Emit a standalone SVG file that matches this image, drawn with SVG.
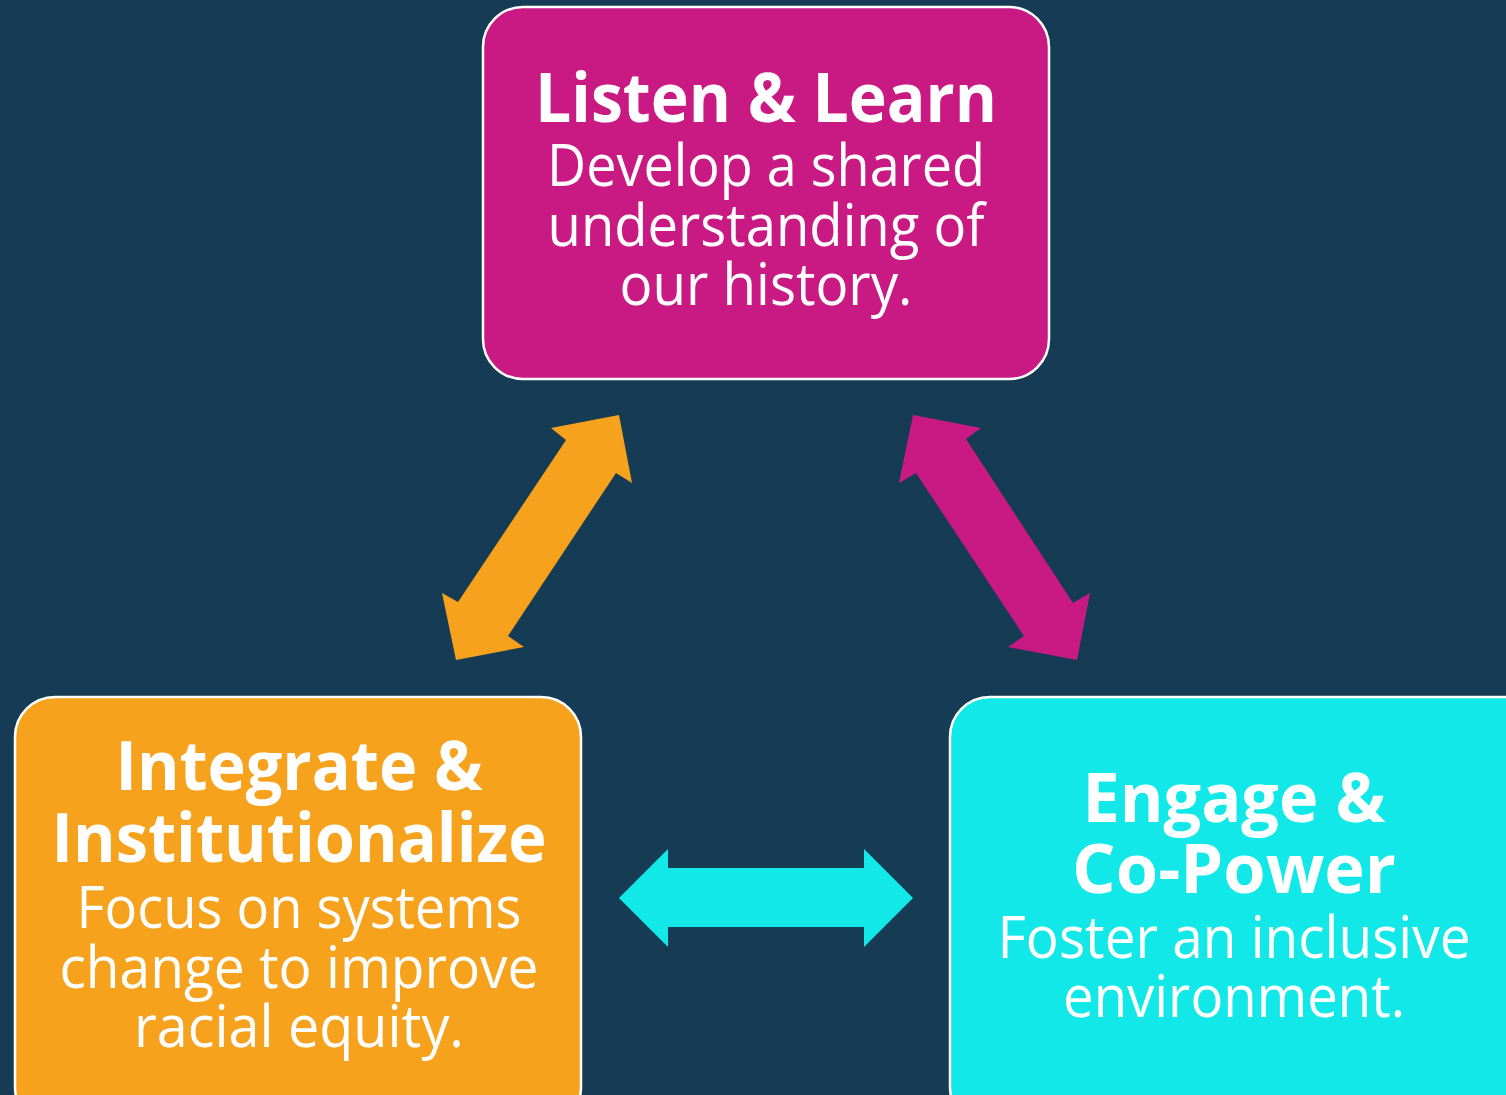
<svg xmlns="http://www.w3.org/2000/svg" width="1506" height="1095" viewBox="0 0 1506 1095">
  <style>
    .box { stroke: #ffffff; stroke-width: 2.5; }
    .title { font-family: "Open Sans", "Noto Sans", sans-serif; font-weight: 700; font-size: 68px; fill: #ffffff; text-anchor: middle; }
    .body { font-family: "Open Sans", "Noto Sans", sans-serif; font-weight: 400; font-size: 58px; fill: #ffffff; text-anchor: middle; }
  </style>
  <rect width="1506" height="1095" fill="#163c55"/>

  <!-- two-headed arrows between the three stages -->
  <g id="connectors">
    <polygon id="arrow-learn-integrate" fill="#f7a21d" points="619,415 632,483 616,473 508,636 524,647 456,660 442,593 458,602 566,440 551,428"/>
    <polygon id="arrow-learn-engage" fill="#c91a84" points="913,415 981,428 966,439 1073,603 1090,593 1077,660 1008,647 1024,636 916,473 899,483"/>
    <polygon id="arrow-integrate-engage" fill="#12e8e8" points="619,898 668,849 668,868 864,868 864,849 913,898 864,947 864,927 668,927 668,947"/>
  </g>

  <g id="listen-learn">
    <rect class="box" x="483" y="7" width="566" height="372" rx="40" fill="#c91a84"/>
    <text class="title" x="766" y="122" textLength="462" lengthAdjust="spacingAndGlyphs">Listen &amp; Learn</text>
    <text class="body" x="766" y="186" textLength="438" lengthAdjust="spacingAndGlyphs">Develop a shared</text>
    <text class="body" x="766" y="246" textLength="437" lengthAdjust="spacingAndGlyphs">understanding of</text>
    <text class="body" x="766" y="305" textLength="293" lengthAdjust="spacingAndGlyphs">our history.</text>
  </g>

  <g id="integrate-institutionalize">
    <rect class="box" x="15" y="697" width="566" height="430" rx="40" fill="#f7a21d"/>
    <text class="title" x="299" y="790" textLength="367" lengthAdjust="spacingAndGlyphs">Integrate &amp;</text>
    <text class="title" x="299" y="862" textLength="495" lengthAdjust="spacingAndGlyphs">Institutionalize</text>
    <text class="body" x="299" y="928" textLength="445" lengthAdjust="spacingAndGlyphs">Focus on systems</text>
    <text class="body" x="299" y="988" textLength="479" lengthAdjust="spacingAndGlyphs">change to improve</text>
    <text class="body" x="299" y="1047" textLength="330" lengthAdjust="spacingAndGlyphs">racial equity.</text>
  </g>

  <g id="engage-copower">
    <rect class="box" x="950" y="697" width="600" height="430" rx="40" fill="#12e8e8"/>
    <text class="title" x="1234" y="822" textLength="303" lengthAdjust="spacingAndGlyphs">Engage &amp;</text>
    <text class="title" x="1234" y="893" textLength="324" lengthAdjust="spacingAndGlyphs">Co-Power</text>
    <text class="body" x="1234" y="958" textLength="473" lengthAdjust="spacingAndGlyphs">Foster an inclusive</text>
    <text class="body" x="1234" y="1017" textLength="342" lengthAdjust="spacingAndGlyphs">environment.</text>
  </g>
</svg>
